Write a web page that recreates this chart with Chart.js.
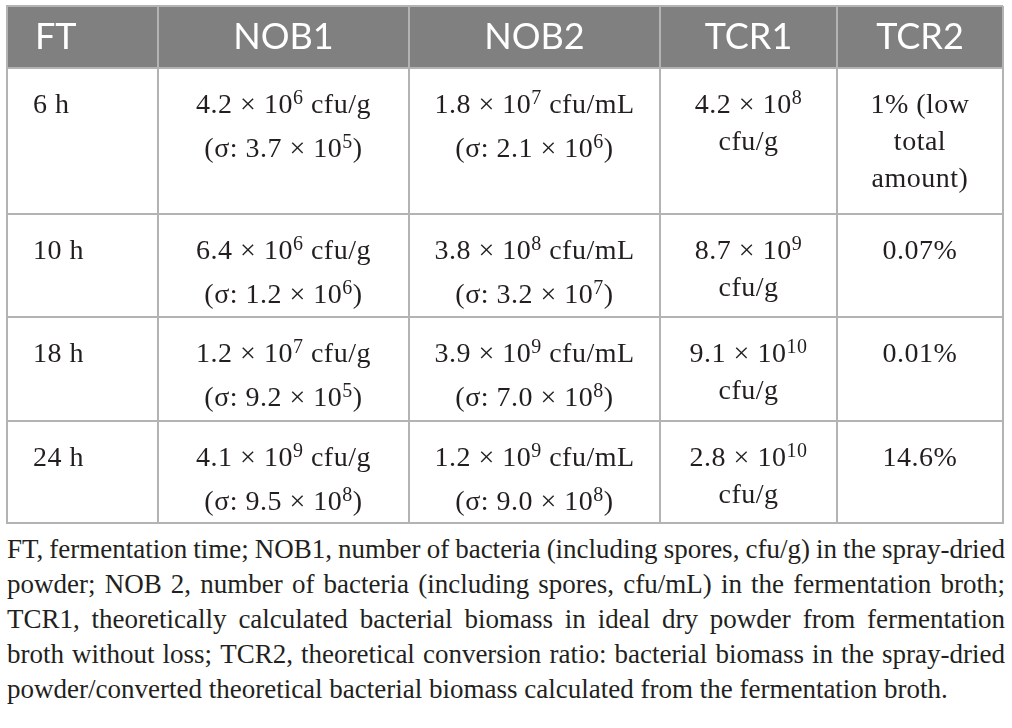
<!DOCTYPE html>
<html>
<head>
<meta charset="utf-8">
<script src="https://cdn.jsdelivr.net/npm/chart.js@4.4.1/dist/chart.umd.min.js"></script>
<style>
  html, body { margin: 0; padding: 0; background: #fff; }
  #wrap { position: absolute; left: 0; top: 0; width: 1012px; height: 529px; }
  #note { position: absolute; left: 7px; top: 532px; width: 998px;
          font: 27px "Liberation Serif", serif; line-height: 35px; color: #231f20; }
  #note .j { display: flex; justify-content: space-between; white-space: nowrap; }
  #note .l { white-space: nowrap; }
</style>
</head>
<body>
<div id="wrap"><canvas id="table-chart"></canvas></div>
<div id="note"></div>
<script>
// --- Table data ---
const columns = ['FT', 'NOB1', 'NOB2', 'TCR1', 'TCR2'];
const times = ['6 h', '10 h', '18 h', '24 h'];

const nob1Value = [4.2, 6.4, 1.2, 4.1];
const nob1Exp = [6, 6, 7, 9];
const nob1Sd = [3.7, 1.2, 9.2, 9.5];
const nob1SdExp = [5, 6, 5, 8];

const nob2Value = [1.8, 3.8, 3.9, 1.2];
const nob2Exp = [7, 8, 9, 9];
const nob2Sd = [2.1, 3.2, 7.0, 9.0];
const nob2SdExp = [6, 7, 8, 8];

const tcr1Value = [4.2, 8.7, 9.1, 2.8];
const tcr1Exp = [8, 9, 10, 10];

const tcr2Text = ['1% (low total amount)', '0.07%', '0.01%', '14.6%'];

const noteLines = [
    'FT, fermentation time; NOB1, number of bacteria (including spores, cfu/g) in the spray-dried',
    'powder; NOB 2, number of bacteria (including spores, cfu/mL) in the fermentation broth;',
    'TCR1, theoretically calculated bacterial biomass in ideal dry powder from fermentation',
    'broth without loss; TCR2, theoretical conversion ratio: bacterial biomass in the spray-dried',
    'powder/converted theoretical bacterial biomass calculated from the fermentation broth.',
];

// --- Layout (scale units for the grid) ---
const colEdges = [0, 151, 402, 653, 830, 996];
const rowEdges = [0, 62, 208, 311, 415, 517];

const lineColor = '#b3b3b3';
const headerFill = '#808080';
const textColor = '#231f20';
const cellFont = '28px "Liberation Serif", serif';
const supFont = '20px "Liberation Serif", serif';
const headFont = '36px Lato, sans-serif';

// a line is a list of [text, isSuperscript] pieces
function sci(m, e, tail) {
    return [[m.toFixed(1) + ' \u00d7 10', false], [String(e), true], [tail, false]];
}

function cellLines(col, r) {
    if (col === 1) return [sci(nob1Value[r], nob1Exp[r], ' cfu/g'), [['(\u03c3: ', false]].concat(sci(nob1Sd[r], nob1SdExp[r], ')'))];
    if (col === 2) return [sci(nob2Value[r], nob2Exp[r], ' cfu/mL'), [['(\u03c3: ', false]].concat(sci(nob2Sd[r], nob2SdExp[r], ')'))];
    if (col === 3) return [sci(tcr1Value[r], tcr1Exp[r], ''), [['cfu/g', false]]];
    return null;
}

function wrapWords(ctx, text, maxW) {
    ctx.font = cellFont;
    const out = [];
    let cur = '';
    text.split(' ').forEach(w => {
        const t = cur ? cur + ' ' + w : w;
        if (cur && ctx.measureText(t).width > maxW) { out.push(cur); cur = w; } else { cur = t; }
    });
    if (cur) out.push(cur);
    return out.map(s => [[s, false]]);
}

function drawRich(ctx, segs, x, y, align) {
    let w = 0;
    segs.forEach(s => { ctx.font = s[1] ? supFont : cellFont; w += ctx.measureText(s[0]).width; });
    let cx = align === 'center' ? x - w / 2 : x;
    segs.forEach(s => {
        ctx.font = s[1] ? supFont : cellFont;
        ctx.fillText(s[0], cx, s[1] ? y - 9 : y);
        cx += ctx.measureText(s[0]).width;
    });
}

const tablePlugin = {
    id: 'tableCells',
    beforeDraw(chart) {
        const { ctx, chartArea, scales } = chart;
        ctx.save();
        ctx.fillStyle = headerFill;
        const y0 = scales.y.getPixelForValue(rowEdges[0]);
        const y1 = scales.y.getPixelForValue(rowEdges[1]);
        ctx.fillRect(chartArea.left, y0, chartArea.right - chartArea.left, y1 - y0);
        ctx.restore();
    },
    afterDraw(chart) {
        const { ctx, scales } = chart;
        const xs = scales.x, ys = scales.y;
        ctx.save();
        ctx.textBaseline = 'alphabetic';
        ctx.textAlign = 'left';

        // header
        ctx.fillStyle = '#fff';
        ctx.font = headFont;
        const hBase = ys.getPixelForValue(rowEdges[0]) + 43;
        columns.forEach((c, i) => {
            const w = ctx.measureText(c).width;
            const x = i === 0 ? xs.getPixelForValue(colEdges[0]) + 28
                              : xs.getPixelForValue((colEdges[i] + colEdges[i + 1]) / 2) - w / 2;
            ctx.fillText(c, x, hBase);
        });

        // body
        ctx.fillStyle = textColor;
        ctx.letterSpacing = '0.5px';
        times.forEach((t, r) => {
            const top = ys.getPixelForValue(rowEdges[r + 1]);
            drawRich(ctx, [[t, false]], xs.getPixelForValue(colEdges[0]) + 26, top + 45, 'left');
            for (let c = 1; c < columns.length; c++) {
                const cx = xs.getPixelForValue((colEdges[c] + colEdges[c + 1]) / 2);
                const colW = xs.getPixelForValue(colEdges[c + 1]) - xs.getPixelForValue(colEdges[c]);
                const lines = cellLines(c, r) || wrapWords(ctx, tcr2Text[r], colW - 40);
                let y = top + 45;
                lines.forEach((ln, k) => {
                    if (k > 0) y += ln.some(s => s[1]) ? 44 : 37;
                    drawRich(ctx, ln, cx, y, 'center');
                });
            }
        });
        ctx.restore();
    }
};

const gridScale = (edges) => ({
    type: 'linear',
    min: edges[0],
    max: edges[edges.length - 1],
    afterBuildTicks: (s) => { s.ticks = edges.map(v => ({ value: v })); },
    ticks: { display: false },
    grid: { color: lineColor, lineWidth: 2, drawTicks: false },
    border: { color: lineColor, width: 2 },
});

const tableCtx = document.getElementById('table-chart').getContext('2d');
const tableChart = new Chart(tableCtx, {
    type: 'scatter',
    data: { datasets: [] },
    options: {
        responsive: true,
        maintainAspectRatio: false,
        animation: false,
        layout: { padding: { left: 7, right: 9, top: 6, bottom: 6 } },
        plugins: { legend: { display: false }, tooltip: { enabled: false } },
        scales: {
            x: gridScale(colEdges),
            y: Object.assign(gridScale(rowEdges), { reverse: true }),
        },
    },
    plugins: [tablePlugin],
});

// footnote: justified lines, last line left-aligned
const note = document.getElementById('note');
noteLines.forEach((l, i) => {
    const d = document.createElement('div');
    if (i < noteLines.length - 1) {
        d.className = 'j';
        l.split(' ').forEach(w => {
            const s = document.createElement('span');
            s.textContent = w;
            d.appendChild(s);
        });
    } else {
        d.className = 'l';
        d.textContent = l;
    }
    note.appendChild(d);
});
</script>
</body>
</html>
